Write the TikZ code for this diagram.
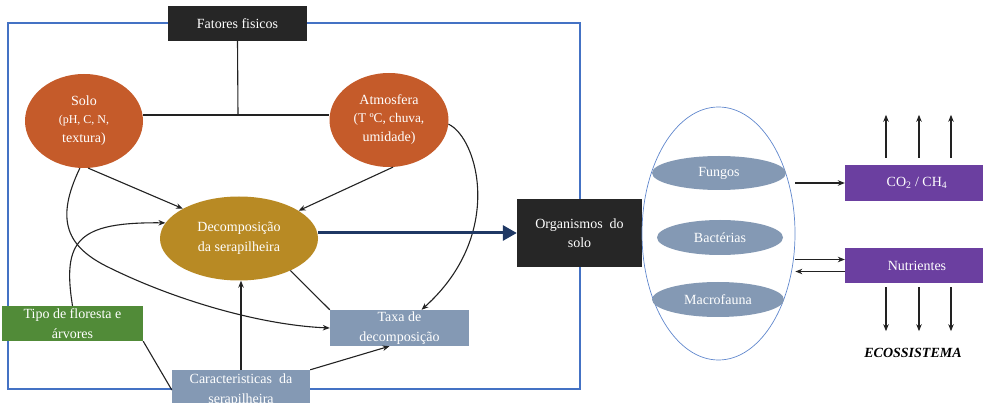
\documentclass[tikz,border=0pt]{standalone}
\usepackage{fontspec}
\setmainfont{Liberation Serif}
\usetikzlibrary{shapes.geometric,arrows.meta,calc}
\definecolor{darkbox}{HTML}{262626}
\definecolor{orangec}{HTML}{C55B2A}
\definecolor{goldc}{HTML}{B88A24}
\definecolor{greenc}{HTML}{518B38}
\definecolor{greyblue}{HTML}{8499B4}
\definecolor{purplec}{HTML}{6B3FA0}
\definecolor{framec}{HTML}{4472C4}
\definecolor{arrblue}{HTML}{1F3864}
\definecolor{linec}{HTML}{222222}
\begin{document}
\begin{tikzpicture}[x=1pt,y=-1pt,
  lbl/.style={text=white, align=center, inner sep=0pt, font=\fontsize{14}{19.5}\selectfont},
  blk/.style={lbl, rectangle, fill=darkbox},
  orn/.style={lbl, ellipse, fill=orangec},
  gld/.style={lbl, ellipse, fill=goldc},
  grn/.style={lbl, rectangle, fill=greenc},
  gbox/.style={lbl, rectangle, fill=greyblue},
  gell/.style={lbl, ellipse, fill=greyblue},
  pbox/.style={lbl, rectangle, fill=purplec},
  con/.style={draw=linec, line width=1.1pt},
  arr/.style={con, -{Stealth[length=7pt,width=5.5pt]}},
  barr/.style={draw=arrblue, line width=3pt, -{Triangle[length=14pt,width=15pt]}},
  frame/.style={draw=framec, line width=1.8pt}
]
\useasboundingbox (0,0) rectangle (983,403);
\clip (0,0) rectangle (983,403);

% frame
\draw[frame] (8,23) rectangle (580,389);

% nodes
\node[blk, minimum width=139pt, minimum height=35pt] (fat) at (237.5,23.5) {Fatores fisicos};
\node[orn, minimum width=118pt, minimum height=94pt] (solo) at (84,121)
  {Solo\\[-2pt]\fontsize{12}{16}\selectfont (pH, C, N,\\ textura)};
\node[orn, minimum width=119pt, minimum height=94pt] (atm) at (389,120)
  {Atmosfera\\[-2pt]\fontsize{13.3}{17}\selectfont (T ºC, chuva,\\ umidade)};
\node[gld, minimum width=158pt, minimum height=84pt] (dec) at (239,238.5) {Decomposição\\da serapilheira};
\node[blk, minimum width=125pt, minimum height=68pt] (org) at (579.5,233) {Organismos\ \ do\\solo};
\node[draw=framec!85, line width=0.7pt, ellipse, minimum width=153pt, minimum height=253pt, inner sep=0pt] (big) at (718.5,233.5) {};
\node[gell, minimum width=134pt, minimum height=34pt] (fun) at (719,173) {Fungos};
\node[gell, minimum width=126pt, minimum height=35pt] (bac) at (720,237.5) {Bactérias};
\node[gell, minimum width=132pt, minimum height=35pt] (mac) at (718,299.5) {Macrofauna};
\node[pbox, minimum width=144pt, minimum height=36pt] (co2) at (917,183) {CO\textsubscript{2} / CH\textsubscript{4}};
\node[pbox, minimum width=144pt, minimum height=35pt] (nut) at (917,265.5) {Nutrientes};
\node[grn, minimum width=141pt, minimum height=35pt] (tipo) at (72.5,323.5) {Tipo de floresta e\\árvores};
\node[gbox, minimum width=139pt, minimum height=36pt] (taxa) at (399.5,328) {Taxa de\\decomposição};
\node[gbox, minimum width=138pt, minimum height=40pt] (car) at (241,390) {Caracteristicas\ \ da\\serapilheira};
\node[inner sep=0pt, font=\bfseries\itshape\fontsize{14}{16}\selectfont] (eco) at (913,353) {ECOSSISTEMA};

% physical factors junction
\coordinate (jn) at (238,115);
\draw[con] (fat.south) -- (jn);
\draw[con] (solo.east |- jn) -- (atm.west |- jn);

% connectors left part
\draw[arr] (solo.-85) -- (dec.152);
\draw[arr] (atm.-85) -- (dec.25);
\draw[arr] (atm.-4) .. controls (478,138) and (505,235) .. ([xshift=22pt]taxa.north);
\draw[arr] (solo.-95) .. controls (55,220) and (66,247) .. (110,268)
  .. controls (175,300) and (260,325) .. (taxa.west);
\draw[arr] (tipo.north) .. controls (62,240) and (78,222) .. (dec.168);
\draw[con] (dec.-32) -- (taxa.north west);
\draw[arr] (car.north) -- (car.north |- dec.south);
\draw[arr] (car.north east) -- ([xshift=-10pt]taxa.south);
\draw[con] (tipo.south east) -- (car.west);

% main blue arrow
\draw[barr] (dec.east |- org.west) -- (org.west);

% right part
\draw[arr] (big.east |- co2.west) -- (co2.west);
\draw[arr] ([yshift=6pt]big.east |- nut.west) -- ([yshift=6pt]nut.west);
\draw[arr] ([yshift=-6pt]nut.west) -- ([yshift=-6pt]big.east |- nut.west);
\foreach \dx in {-31,2,34} {
  \draw[arr] ($(co2.north)+(\dx,-7)$) -- ++(0,-43);
  \draw[arr] ($(nut.south)+(\dx,4)$) -- ++(0,44);
}
\end{tikzpicture}
\end{document}
